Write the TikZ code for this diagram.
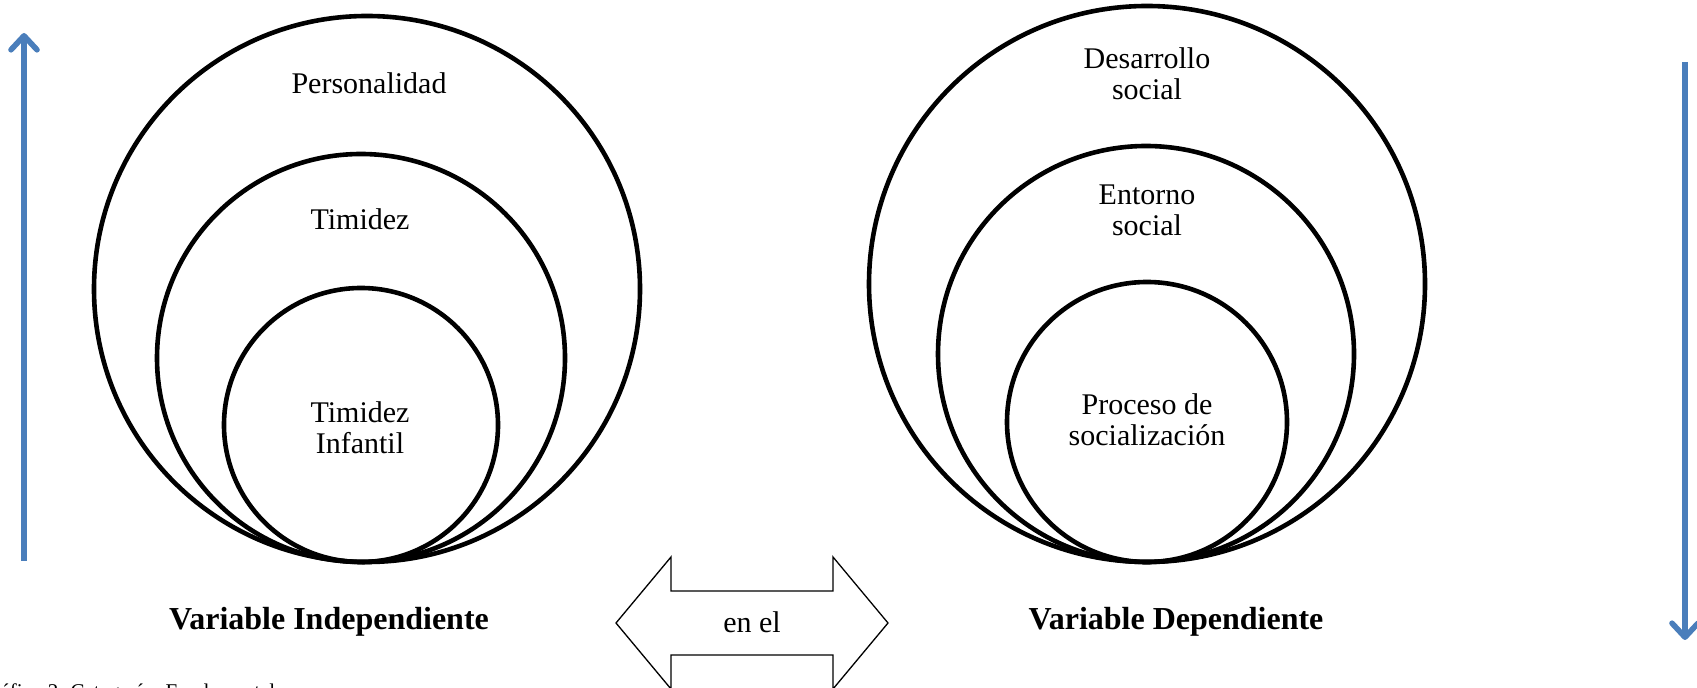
\documentclass[tikz,border=0pt]{standalone}
\usepackage{fontspec}
\setmainfont{Liberation Serif}
\usetikzlibrary{arrows.meta}
\definecolor{varblue}{RGB}{74,126,187}

\begin{document}
\begin{tikzpicture}[x=0.5pt, y=-0.5pt,
    ring/.style={circle, draw, line width=2.3pt, inner sep=0pt, outer sep=0pt},
    txt/.style={align=center, font=\fontsize{15}{15.5}\selectfont},
    varlabel/.style={font=\fontsize{16}{18}\selectfont\bfseries},
    flecha/.style={draw=varblue, line width=2.8pt,
      -{Straight Barb[length=7pt, width=13pt, round]}}]
  \useasboundingbox (0,0) rectangle (1697,688);

  % variable independiente
  \node[ring, minimum size=273pt] (pers) at (367,289) {};
  \node[ring, minimum size=204pt] (tim) at (361,358) {};
  \node[ring, minimum size=137pt] (timinf) at (361,425) {};
  \node[txt] (persT) at (369,83) {Personalidad};
  \node[txt] (timT) at (360,219) {Timidez};
  \node[txt] (timinfT) at (360,428) {Timidez\\Infantil};
  \node[varlabel] (vi) at (329,622) {Variable Independiente};

  % variable dependiente
  \node[ring, minimum size=278pt] (des) at (1147,284) {};
  \node[ring, minimum size=208pt] (ent) at (1146,354) {};
  \node[ring, minimum size=140pt] (proc) at (1147,422) {};
  \node[txt] (desT) at (1147,74) {Desarrollo\\social};
  \node[txt] (entT) at (1147,210) {Entorno\\social};
  \node[txt] (procT) at (1147,420) {Proceso de\\socialización};
  \node[varlabel] (vd) at (1176,622) {Variable Dependiente};

  % flecha doble
  \draw[line width=0.65pt, line join=miter]
    (616,623) -- (671,557) -- (671,591) -- (833,591) -- (833,557)
    -- (888,623) -- (833,689) -- (833,655) -- (671,655) -- (671,689) -- cycle;
  \node[txt] (enel) at (752,622) {en el};

  % flechas azules
  \coordinate (upS) at (24,561);
  \coordinate (upE) at (24,33);
  \coordinate (downS) at (1685,62);
  \coordinate (downE) at (1685,640);
  \draw[flecha] (upS) -- (upE);
  \draw[flecha] (downS) -- (downE);

  \node[anchor=base west, font=\fontsize{10.5}{12}\selectfont, inner sep=0pt]
    (cap) at (-22,699) {Gráfico 2. Categorías Fundamentales};
\end{tikzpicture}
\end{document}
